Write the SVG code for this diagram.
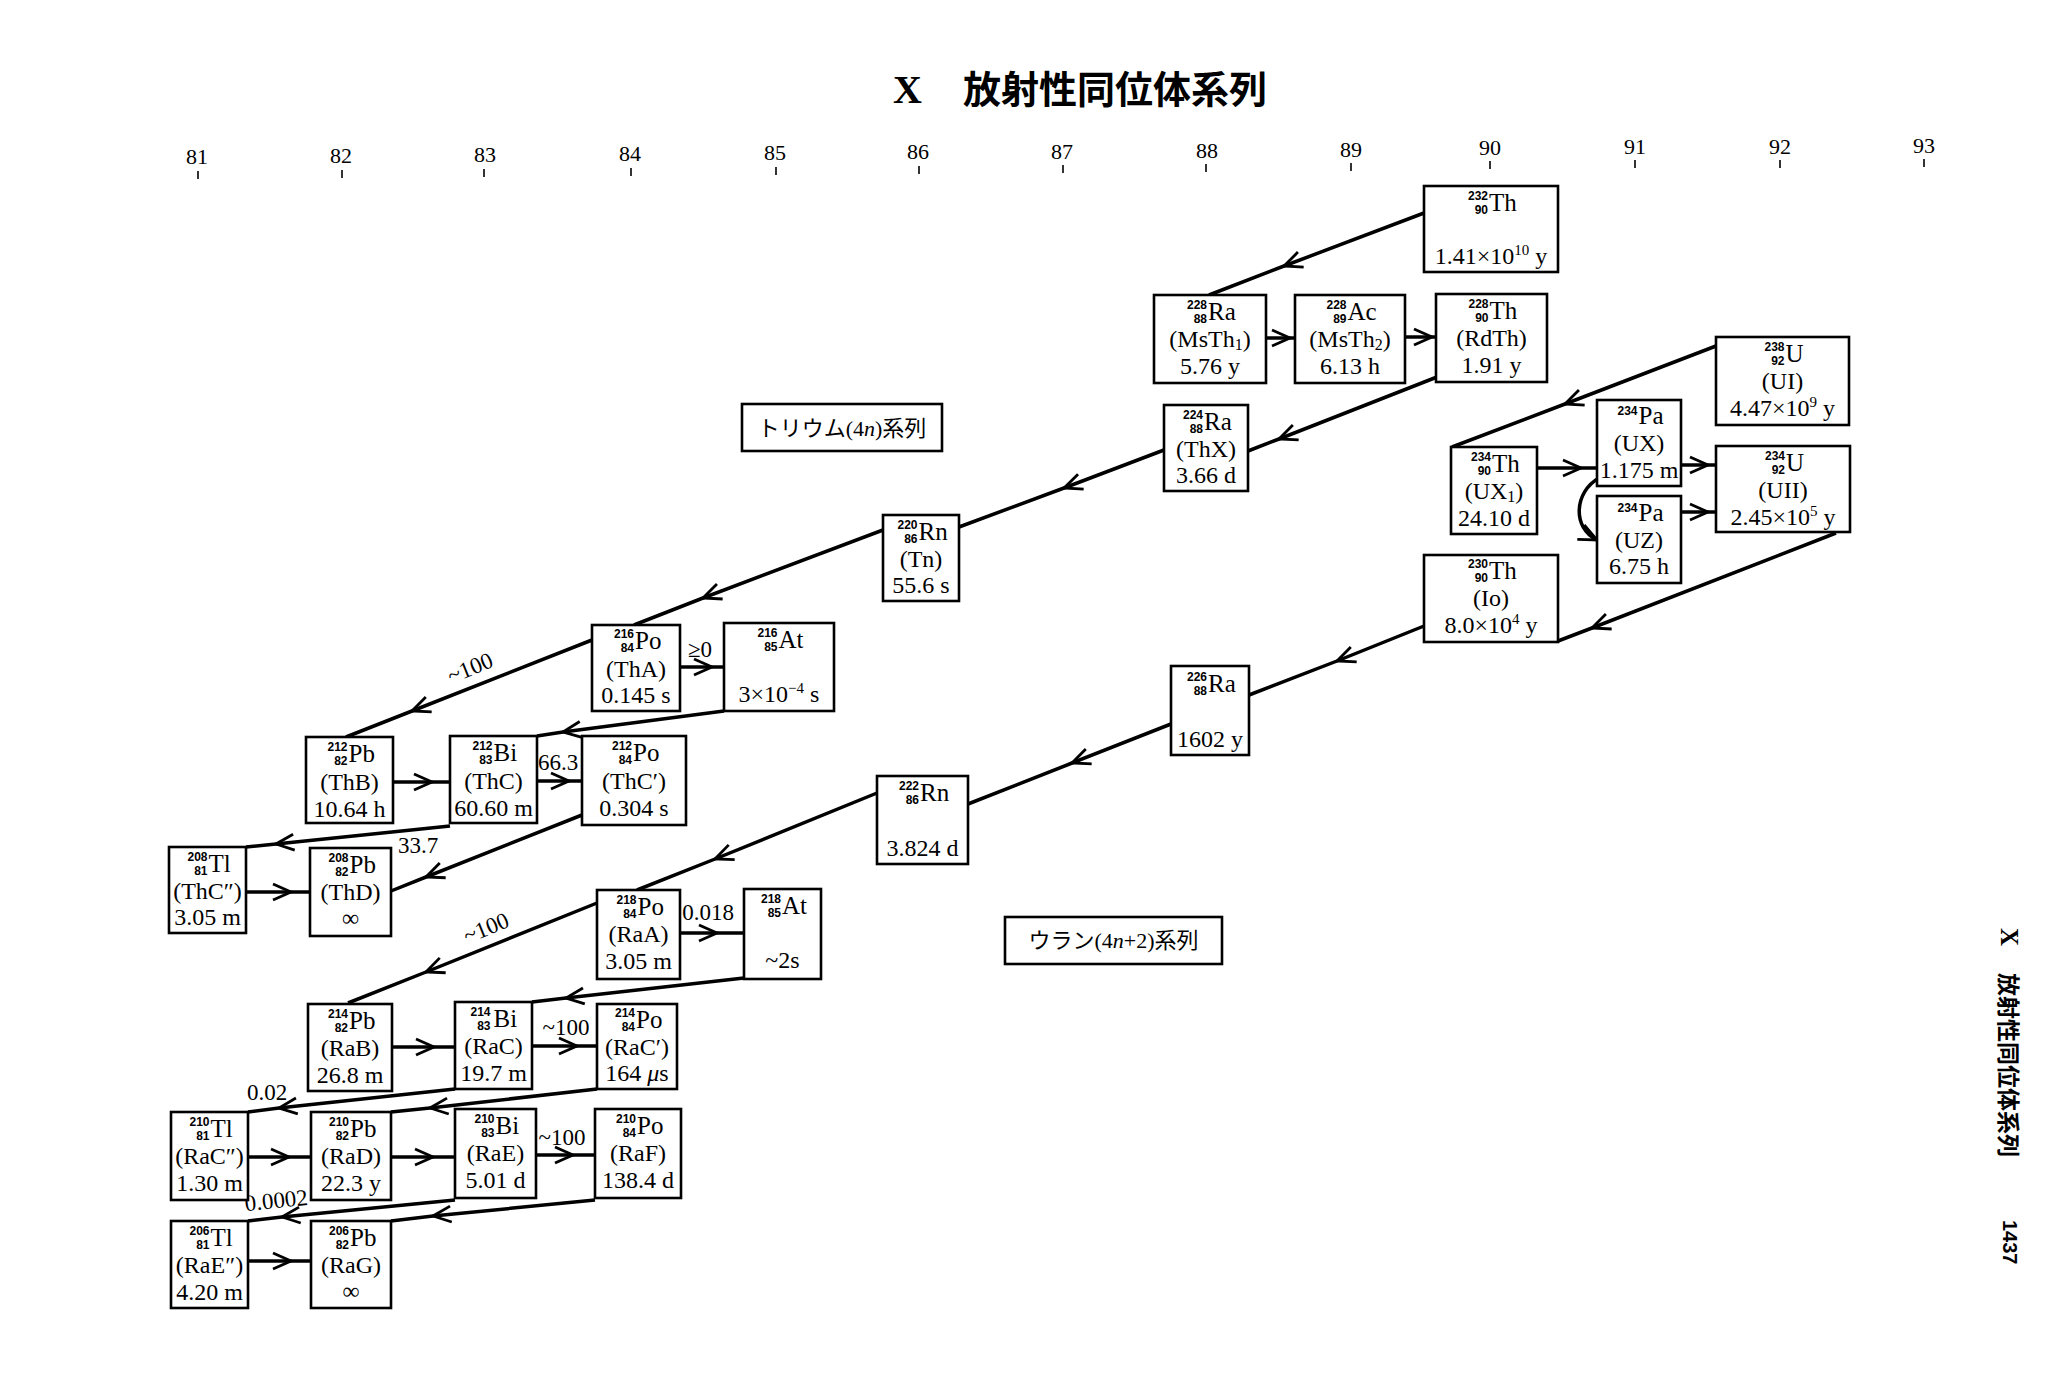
<svg xmlns="http://www.w3.org/2000/svg" width="2049" height="1395" viewBox="0 0 2049 1395">
<defs>
<style>
.bx{fill:#fff;stroke:#000;stroke-width:2.6}
.t{font-family:"Liberation Serif",serif;font-size:24px;text-anchor:middle;fill:#000}
.s{font-family:"Liberation Serif",serif;font-size:25px;fill:#000}
.n{font-family:"Liberation Sans",sans-serif;font-size:12px;font-weight:bold;text-anchor:end;fill:#000}
.sp{font-size:15px}
.sb{font-size:16px}
.ln{fill:none;stroke:#000;stroke-width:3.5;marker-mid:url(#ch)}
.cv{fill:none;stroke:#000;stroke-width:3.5;marker-end:url(#ch)}
.lb{font-family:"Liberation Serif",serif;font-size:23px;text-anchor:middle;fill:#000}
.ax{font-family:"Liberation Serif",serif;font-size:22px;text-anchor:middle;fill:#000}
.tk{stroke:#000;stroke-width:1.6}
.jp{font-family:"Liberation Serif","Noto Sans CJK JP",serif;font-size:22px;text-anchor:middle;fill:#000}
</style>
<marker id="ch" markerUnits="userSpaceOnUse" markerWidth="40" markerHeight="40" viewBox="-20 -20 40 40" refX="0" refY="0" orient="auto"><path d="M-18,-8 L0,0 L-18,8" fill="none" stroke="#000" stroke-width="2.8"/></marker>
</defs>
<rect x="0" y="0" width="2049" height="1395" fill="#fff"/>

<g id="title">
<text y="103" fill="#000"><tspan x="893" font-family="Liberation Serif,serif" font-size="40" font-weight="bold">X</tspan><tspan x="963" font-family="Noto Sans CJK JP,sans-serif" font-size="38" font-weight="bold">放射性同位体系列</tspan></text>
</g>

<g id="axis">
<text class="ax" x="197" y="164">81</text><line class="tk" x1="198" y1="171" x2="198" y2="179"/>
<text class="ax" x="341" y="163">82</text><line class="tk" x1="342" y1="170" x2="342" y2="178"/>
<text class="ax" x="485" y="162">83</text><line class="tk" x1="484" y1="169" x2="484" y2="177"/>
<text class="ax" x="630" y="161">84</text><line class="tk" x1="631" y1="168" x2="631" y2="176"/>
<text class="ax" x="775" y="160">85</text><line class="tk" x1="776" y1="167" x2="776" y2="175"/>
<text class="ax" x="918" y="159">86</text><line class="tk" x1="919" y1="166" x2="919" y2="174"/>
<text class="ax" x="1062" y="159">87</text><line class="tk" x1="1063" y1="165" x2="1063" y2="173"/>
<text class="ax" x="1207" y="158">88</text><line class="tk" x1="1206" y1="164" x2="1206" y2="172"/>
<text class="ax" x="1351" y="157">89</text><line class="tk" x1="1351" y1="163" x2="1351" y2="171"/>
<text class="ax" x="1490" y="155">90</text><line class="tk" x1="1490" y1="161" x2="1490" y2="169"/>
<text class="ax" x="1635" y="154">91</text><line class="tk" x1="1635" y1="160" x2="1635" y2="168"/>
<text class="ax" x="1780" y="154">92</text><line class="tk" x1="1780" y1="160" x2="1780" y2="168"/>
<text class="ax" x="1924" y="153">93</text><line class="tk" x1="1924" y1="159" x2="1924" y2="167"/>
</g>

<g id="connectors">
<path class="ln" d="M1424,213 L1284,266 L1209,295"/>
<path class="ln" d="M1266,338 L1290,338 L1295,338"/>
<path class="ln" d="M1405,337 L1432,337 L1436,337"/>
<path class="ln" d="M1437,377 L1279,439 L1248,451"/>
<path class="ln" d="M1164,450 L1064,488 L959,527"/>
<path class="ln" d="M883,530 L703,598 L634,625"/>
<path class="ln" d="M592,640 L412,711 L346,737"/>
<path class="ln" d="M680,667 L712,667 L724,667"/>
<path class="ln" d="M724,711 L563,732 L537,736"/>
<path class="ln" d="M393,782 L432,782 L450,782"/>
<path class="ln" d="M537,781 L569,781 L582,781"/>
<path class="ln" d="M450,826 L276,844 L246,847"/>
<path class="ln" d="M582,815 L426,877 L391,891"/>
<path class="ln" d="M246,892 L291,892 L310,892"/>
<path class="ln" d="M1716,346 L1565,404 L1452,447"/>
<path class="ln" d="M1537,468 L1581,468 L1597,468"/>
<path class="ln" d="M1681,465 L1708,465 L1716,465"/>
<path class="ln" d="M1681,512 L1708,512 L1716,512"/>
<path class="cv" d="M1599,478 C1574,492 1572,528 1597,540"/>
<path class="ln" d="M1836,533 L1592,628 L1558,641"/>
<path class="ln" d="M1424,626 L1337,661 L1249,695"/>
<path class="ln" d="M1171,724 L1072,763 L968,804"/>
<path class="ln" d="M877,793 L715,859 L637,890"/>
<path class="ln" d="M597,903 L426,972 L348,1003"/>
<path class="ln" d="M680,933 L717,933 L744,933"/>
<path class="ln" d="M744,978 L566,998 L532,1002"/>
<path class="ln" d="M392,1047 L434,1047 L455,1047"/>
<path class="ln" d="M532,1046 L577,1046 L597,1046"/>
<path class="ln" d="M455,1089 L279,1108 L248,1112"/>
<path class="ln" d="M597,1089 L430,1108 L391,1112"/>
<path class="ln" d="M248,1157 L289,1157 L311,1157"/>
<path class="ln" d="M391,1157 L433,1157 L455,1157"/>
<path class="ln" d="M536,1155 L573,1155 L595,1155"/>
<path class="ln" d="M455,1200 L282,1217 L248,1221"/>
<path class="ln" d="M595,1200 L433,1216 L391,1221"/>
<path class="ln" d="M248,1261 L291,1261 L311,1261"/>
<text class="lb" transform="translate(473,675) rotate(-22)">~100</text>
<text class="lb" x="700" y="657">≥0</text>
<text class="lb" x="558" y="770">66.3</text>
<text class="lb" x="418" y="853">33.7</text>
<text class="lb" transform="translate(489,935) rotate(-22)">~100</text>
<text class="lb" x="708" y="920">0.018</text>
<text class="lb" x="566" y="1035">~100</text>
<text class="lb" x="267" y="1100">0.02</text>
<text class="lb" x="562" y="1145">~100</text>
<text class="lb" font-size="22" transform="translate(277,1208) rotate(-6)">0.0002</text>
</g>

<g id="th232"><rect class="bx" x="1424" y="186" width="134" height="86"/><text class="n" x="1488" y="200">232</text><text class="n" x="1488" y="214">90</text><text class="s" x="1489" y="211">Th</text><text class="t" x="1491" y="264">1.41×10<tspan class="sp" dy="-9">10</tspan><tspan dy="9"> y</tspan></text></g>

<g id="ra228"><rect class="bx" x="1154" y="295" width="112" height="88"/><text class="n" x="1207" y="309">228</text><text class="n" x="1207" y="323">88</text><text class="s" x="1208" y="320">Ra</text><text class="t" x="1210" y="347">(MsTh<tspan class="sb" dy="3">1</tspan><tspan dy="-3">)</tspan></text><text class="t" x="1210" y="374">5.76 y</text></g>

<g id="ac228"><rect class="bx" x="1295" y="295" width="110" height="88"/><text class="n" x="1346.5" y="309">228</text><text class="n" x="1346.5" y="323">89</text><text class="s" x="1347.5" y="320">Ac</text><text class="t" x="1350" y="347">(MsTh<tspan class="sb" dy="3">2</tspan><tspan dy="-3">)</tspan></text><text class="t" x="1350" y="374">6.13 h</text></g>

<g id="th228"><rect class="bx" x="1436" y="294" width="111" height="88"/><text class="n" x="1488.5" y="308">228</text><text class="n" x="1488.5" y="322">90</text><text class="s" x="1489.5" y="319">Th</text><text class="t" x="1491.5" y="346">(RdTh)</text><text class="t" x="1491.5" y="373">1.91 y</text></g>

<g id="u238"><rect class="bx" x="1716" y="337" width="133" height="88"/><text class="n" x="1784.5" y="351">238</text><text class="n" x="1784.5" y="365">92</text><text class="s" x="1785.5" y="362">U</text><text class="t" x="1782.5" y="389">(UI)</text><text class="t" x="1782.5" y="416">4.47×10<tspan class="sp" dy="-9">9</tspan><tspan dy="9"> y</tspan></text></g>

<g id="ra224"><rect class="bx" x="1164" y="405" width="84" height="86"/><text class="n" x="1203" y="419">224</text><text class="n" x="1203" y="433">88</text><text class="s" x="1204" y="430">Ra</text><text class="t" x="1206" y="457">(ThX)</text><text class="t" x="1206" y="483">3.66 d</text></g>

<g id="th234"><rect class="bx" x="1451" y="447" width="86" height="87"/><text class="n" x="1491" y="461">234</text><text class="n" x="1491" y="475">90</text><text class="s" x="1492" y="472">Th</text><text class="t" x="1494" y="499">(UX<tspan class="sb" dy="3">1</tspan><tspan dy="-3">)</tspan></text><text class="t" x="1494" y="526">24.10 d</text></g>

<g id="pa234ux"><rect class="bx" x="1597" y="400" width="84" height="86"/><text class="n" x="1637.5" y="415">234</text><text class="s" x="1638.5" y="424">Pa</text><text class="t" x="1639" y="451">(UX)</text><text class="t" x="1639" y="478">1.175 m</text></g>

<g id="u234"><rect class="bx" x="1716" y="446" width="134" height="86"/><text class="n" x="1785" y="460">234</text><text class="n" x="1785" y="474">92</text><text class="s" x="1786" y="471">U</text><text class="t" x="1783" y="498">(UII)</text><text class="t" x="1783" y="525">2.45×10<tspan class="sp" dy="-9">5</tspan><tspan dy="9"> y</tspan></text></g>

<g id="pa234uz"><rect class="bx" x="1597" y="496" width="84" height="87"/><text class="n" x="1637.5" y="512">234</text><text class="s" x="1638.5" y="521">Pa</text><text class="t" x="1639" y="548">(UZ)</text><text class="t" x="1639" y="574">6.75 h</text></g>

<g id="th230"><rect class="bx" x="1424" y="555" width="134" height="87"/><text class="n" x="1488" y="568">230</text><text class="n" x="1488" y="582">90</text><text class="s" x="1489" y="579">Th</text><text class="t" x="1491" y="606">(Io)</text><text class="t" x="1491" y="633">8.0×10<tspan class="sp" dy="-9">4</tspan><tspan dy="9"> y</tspan></text></g>

<g id="ra226"><rect class="bx" x="1171" y="666" width="78" height="89"/><text class="n" x="1207" y="681">226</text><text class="n" x="1207" y="695">88</text><text class="s" x="1208" y="692">Ra</text><text class="t" x="1210" y="747">1602 y</text></g>

<g id="rn220"><rect class="bx" x="883" y="515" width="76" height="86"/><text class="n" x="917.5" y="529">220</text><text class="n" x="917.5" y="543">86</text><text class="s" x="918.5" y="540">Rn</text><text class="t" x="921" y="567">(Tn)</text><text class="t" x="921" y="593">55.6 s</text></g>

<g id="po216"><rect class="bx" x="592" y="625" width="88" height="86"/><text class="n" x="634" y="638">216</text><text class="n" x="634" y="652">84</text><text class="s" x="635" y="649">Po</text><text class="t" x="636" y="677">(ThA)</text><text class="t" x="636" y="703">0.145 s</text></g>

<g id="at216"><rect class="bx" x="724" y="623" width="110" height="88"/><text class="n" x="777.5" y="637">216</text><text class="n" x="777.5" y="651">85</text><text class="s" x="778.5" y="648">At</text><text class="t" x="779" y="702">3×10<tspan class="sp" dy="-9">−4</tspan><tspan dy="9"> s</tspan></text></g>

<g id="pb212"><rect class="bx" x="306" y="737" width="87" height="86"/><text class="n" x="347.5" y="751">212</text><text class="n" x="347.5" y="765">82</text><text class="s" x="348.5" y="762">Pb</text><text class="t" x="349.5" y="790">(ThB)</text><text class="t" x="349.5" y="817">10.64 h</text></g>

<g id="bi212"><rect class="bx" x="450" y="736" width="87" height="87"/><text class="n" x="492.5" y="750">212</text><text class="n" x="492.5" y="764">83</text><text class="s" x="493.5" y="761">Bi</text><text class="t" x="493.5" y="789">(ThC)</text><text class="t" x="493.5" y="816">60.60 m</text></g>

<g id="po212"><rect class="bx" x="582" y="736" width="104" height="89"/><text class="n" x="632" y="750">212</text><text class="n" x="632" y="764">84</text><text class="s" x="633" y="761">Po</text><text class="t" x="634" y="789">(ThC′)</text><text class="t" x="634" y="816">0.304 s</text></g>

<g id="tl208"><rect class="bx" x="169" y="847" width="77" height="86"/><text class="n" x="207.5" y="861">208</text><text class="n" x="207.5" y="875">81</text><text class="s" x="208.5" y="872">Tl</text><text class="t" x="207.5" y="899">(ThC″)</text><text class="t" x="207.5" y="925">3.05 m</text></g>

<g id="pb208"><rect class="bx" x="310" y="848" width="81" height="88"/><text class="n" x="348.5" y="862">208</text><text class="n" x="348.5" y="876">82</text><text class="s" x="349.5" y="873">Pb</text><text class="t" x="350.5" y="900">(ThD)</text><text class="t" x="350.5" y="926">∞</text></g>

<g id="rn222"><rect class="bx" x="877" y="776" width="91" height="88"/><text class="n" x="919" y="790">222</text><text class="n" x="919" y="804">86</text><text class="s" x="920" y="801">Rn</text><text class="t" x="922.5" y="856">3.824 d</text></g>

<g id="po218"><rect class="bx" x="597" y="890" width="83" height="89"/><text class="n" x="636.5" y="904">218</text><text class="n" x="636.5" y="918">84</text><text class="s" x="637.5" y="915">Po</text><text class="t" x="638.5" y="942">(RaA)</text><text class="t" x="638.5" y="969">3.05 m</text></g>

<g id="at218"><rect class="bx" x="744" y="889" width="77" height="90"/><text class="n" x="781" y="903">218</text><text class="n" x="781" y="917">85</text><text class="s" x="782" y="914">At</text><text class="t" x="782.5" y="968">~2s</text></g>

<g id="pb214"><rect class="bx" x="308" y="1004" width="84" height="87"/><text class="n" x="348" y="1018">214</text><text class="n" x="348" y="1032">82</text><text class="s" x="349" y="1029">Pb</text><text class="t" x="350" y="1056">(RaB)</text><text class="t" x="350" y="1083">26.8 m</text></g>

<g id="bi214"><rect class="bx" x="455" y="1002" width="77" height="87"/><text class="n" x="490.5" y="1016">214</text><text class="n" x="490.5" y="1030">83</text><text class="s" x="493.5" y="1027">Bi</text><text class="t" x="493.5" y="1054">(RaC)</text><text class="t" x="493.5" y="1081">19.7 m</text></g>

<g id="po214"><rect class="bx" x="597" y="1004" width="80" height="85"/><text class="n" x="635" y="1017">214</text><text class="n" x="635" y="1031">84</text><text class="s" x="636" y="1028">Po</text><text class="t" x="637" y="1055">(RaC′)</text><text class="t" x="637" y="1081">164 <tspan font-style="italic">μ</tspan>s</text></g>

<g id="tl210"><rect class="bx" x="171" y="1112" width="77" height="88"/><text class="n" x="209.5" y="1126">210</text><text class="n" x="209.5" y="1140">81</text><text class="s" x="210.5" y="1137">Tl</text><text class="t" x="209.5" y="1164">(RaC″)</text><text class="t" x="209.5" y="1191">1.30 m</text></g>

<g id="pb210"><rect class="bx" x="311" y="1112" width="80" height="88"/><text class="n" x="349" y="1126">210</text><text class="n" x="349" y="1140">82</text><text class="s" x="350" y="1137">Pb</text><text class="t" x="351" y="1164">(RaD)</text><text class="t" x="351" y="1191">22.3 y</text></g>

<g id="bi210"><rect class="bx" x="455" y="1109" width="81" height="89"/><text class="n" x="494.5" y="1123">210</text><text class="n" x="494.5" y="1137">83</text><text class="s" x="495.5" y="1134">Bi</text><text class="t" x="495.5" y="1161">(RaE)</text><text class="t" x="495.5" y="1188">5.01 d</text></g>

<g id="po210"><rect class="bx" x="595" y="1109" width="86" height="89"/><text class="n" x="636" y="1123">210</text><text class="n" x="636" y="1137">84</text><text class="s" x="637" y="1134">Po</text><text class="t" x="638" y="1161">(RaF)</text><text class="t" x="638" y="1188">138.4 d</text></g>

<g id="tl206"><rect class="bx" x="171" y="1221" width="77" height="87"/><text class="n" x="209.5" y="1235">206</text><text class="n" x="209.5" y="1249">81</text><text class="s" x="210.5" y="1246">Tl</text><text class="t" x="209.5" y="1273">(RaE″)</text><text class="t" x="209.5" y="1300">4.20 m</text></g>

<g id="pb206"><rect class="bx" x="311" y="1221" width="80" height="87"/><text class="n" x="349" y="1235">206</text><text class="n" x="349" y="1249">82</text><text class="s" x="350" y="1246">Pb</text><text class="t" x="351" y="1273">(RaG)</text><text class="t" x="351" y="1299">∞</text></g>

<g id="thorium-series-label"><rect class="bx" x="742" y="404" width="200" height="47"/><text class="jp" x="842" y="436">トリウム(4<tspan font-style="italic">n</tspan>)系列</text></g>

<g id="uranium-series-label"><rect class="bx" x="1005" y="917" width="217" height="47"/><text class="jp" font-size="23" x="1113.5" y="948">ウラン(4<tspan font-style="italic">n</tspan>+2)系列</text></g>

<g id="side-header">
<text transform="translate(2010,928) rotate(90)" dominant-baseline="central" fill="#000"><tspan x="0" font-family="Liberation Serif,serif" font-size="25" font-weight="bold">X</tspan><tspan x="45" font-family="Noto Sans CJK JP,sans-serif" font-size="23" font-weight="bold">放射性同位体系列</tspan></text>
<text transform="translate(2010,1220) rotate(90)" dominant-baseline="central" font-family="Liberation Sans,sans-serif" font-size="20" font-weight="bold" fill="#000">1437</text>
</g>
</svg>
